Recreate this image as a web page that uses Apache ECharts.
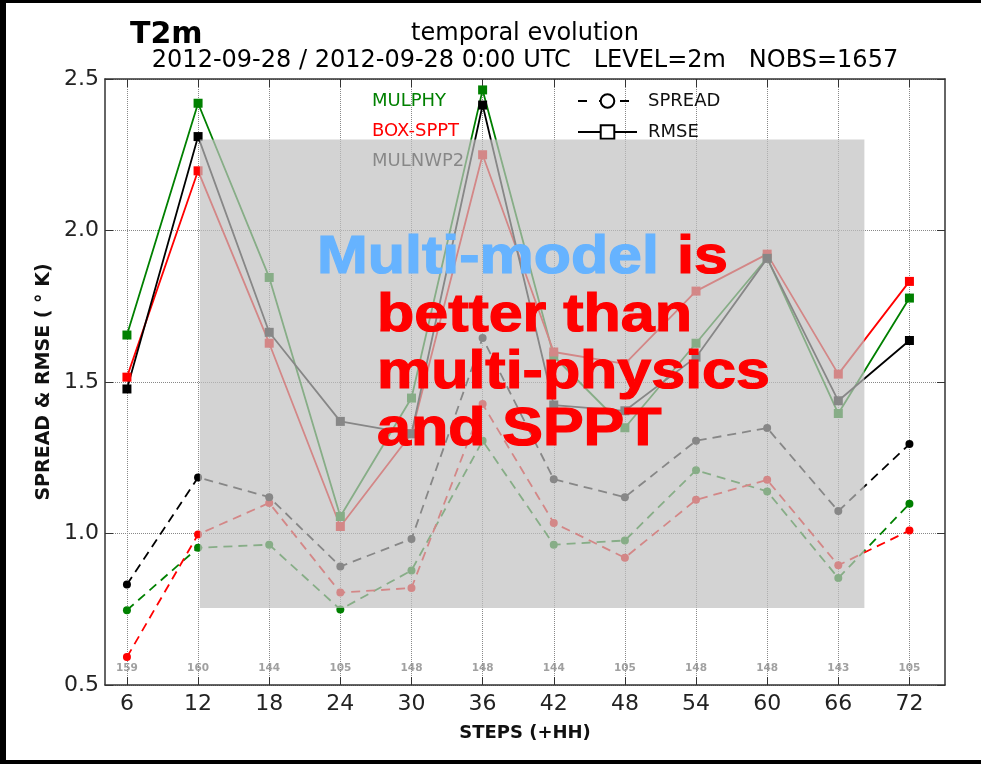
<!DOCTYPE html>
<html><head><meta charset="utf-8">
<script src="https://cdn.jsdelivr.net/npm/echarts@6/dist/echarts.min.js"></script>
<style>html,body{margin:0;padding:0;background:#fff;} #c{width:981px;height:764px;}</style>
</head><body><div id="c"></div>
<script>
const steps = [6, 12, 18, 24, 30, 36, 42, 48, 54, 60, 66, 72];
const nobs = [159, 160, 144, 105, 148, 148, 144, 105, 148, 148, 143, 105];
const rmseMulphy   = [1.655, 2.42, 1.845, 1.056, 1.447, 2.464, 1.585, 1.349, 1.628, 1.91, 1.396, 1.777];
const rmseBoxSppt  = [1.516, 2.197, 1.628, 1.023, 1.33, 2.25, 1.599, 1.56, 1.80, 1.922, 1.526, 1.832];
const rmseMulnwp2  = [1.477, 2.31, 1.664, 1.37, 1.329, 2.414, 1.424, 1.405, 1.582, 1.908, 1.438, 1.637];
const spreadMulphy  = [0.747, 0.953, 0.963, 0.749, 0.878, 1.306, 0.963, 0.977, 1.209, 1.139, 0.853, 1.098];
const spreadBoxSppt = [0.592, 0.997, 1.101, 0.805, 0.82, 1.427, 1.035, 0.92, 1.111, 1.177, 0.895, 1.01];
const spreadMulnwp2 = [0.832, 1.185, 1.12, 0.891, 0.982, 1.645, 1.179, 1.12, 1.306, 1.348, 1.074, 1.295];
const boxRange = [[12.15, 2.3], [68.2, 0.754]];

const FONT = 'DejaVu Sans';
const chart = echarts.init(document.getElementById('c'), null, {renderer: 'canvas'});

function lineSeries(name, vals, color, dashed) {
  return {
    type: 'line', name: name,
    data: steps.map((s, i) => [s, vals[i]]),
    symbol: dashed ? 'circle' : 'rect',
    symbolSize: dashed ? 8 : 9,
    lineStyle: {color: color, width: 1.8, type: dashed ? [9, 6] : 'solid'},
    itemStyle: {color: color},
    z: 3, animation: false, silent: true
  };
}

function bigText(text, x, y, color) {
  return {
    type: 'text', x: x, y: y, scaleX: 1.15, z: 100,
    style: {
      text: text, fontSize: 53, fontWeight: 'bold', fontFamily: 'Liberation Sans',
      fill: color, stroke: color, lineWidth: 1.2, textVerticalAlign: 'top'
    }
  };
}

const axisLineStyle = {color: '#333', width: 1.5};

const option = {
  animation: false,
  backgroundColor: '#fff',
  grid: {left: 105, right: 36, top: 79, bottom: 79, containLabel: false},
  legend: {
    data: ['SPREAD', 'RMSE'], orient: 'vertical', left: 577, top: 92,
    itemWidth: 59, itemHeight: 17, itemGap: 13, padding: 0, selectedMode: false,
    textStyle: {fontSize: 18, fontFamily: FONT, color: '#111', padding: [0, 0, 0, 6]}
  },
  xAxis: [{
    type: 'value', min: 4.15, max: 75, position: 'bottom',
    axisLine: {show: true, onZero: false, lineStyle: axisLineStyle},
    axisTick: {show: true, inside: true, length: 8, customValues: steps, lineStyle: {color: '#333'}},
    axisLabel: {customValues: steps, fontSize: 22, color: '#222', fontFamily: FONT, margin: 8},
    splitLine: {show: true, lineStyle: {type: 'dotted', color: '#888', width: 1}},
    name: 'STEPS (+HH)', nameLocation: 'middle', nameGap: 39,
    nameTextStyle: {fontSize: 18, fontWeight: 'bold', fontFamily: FONT, color: '#111'}
  }, {
    type: 'value', min: 4.15, max: 75, position: 'top',
    axisLine: {show: true, onZero: false, lineStyle: axisLineStyle},
    axisTick: {show: true, inside: true, length: 8, customValues: steps, lineStyle: {color: '#333'}},
    axisLabel: {show: false}, splitLine: {show: false}
  }],
  yAxis: [{
    type: 'value', min: 0.5, max: 2.5, interval: 0.5, position: 'left',
    axisLine: {show: true, onZero: false, lineStyle: axisLineStyle},
    axisTick: {show: true, inside: true, length: 8, lineStyle: {color: '#333'}},
    axisLabel: {formatter: v => v.toFixed(1), fontSize: 22, color: '#222', fontFamily: FONT, margin: 6},
    splitLine: {show: true, lineStyle: {type: 'dotted', color: '#888', width: 1}},
    name: 'SPREAD & RMSE ( \u00B0 K)', nameLocation: 'middle', nameGap: 45, nameRotate: 90,
    nameTextStyle: {fontSize: 19, fontWeight: 'bold', fontFamily: FONT, color: '#111'}
  }, {
    type: 'value', min: 0.5, max: 2.5, interval: 0.5, position: 'right',
    axisLine: {show: true, onZero: false, lineStyle: axisLineStyle},
    axisTick: {show: true, inside: true, length: 8, lineStyle: {color: '#333'}},
    axisLabel: {show: false}, splitLine: {show: false}
  }],
  series: [
    lineSeries('MULPHY spread', spreadMulphy, '#008000', true),
    lineSeries('BOX-SPPT spread', spreadBoxSppt, '#ff0000', true),
    lineSeries('MULNWP2 spread', spreadMulnwp2, '#000000', true),
    lineSeries('MULPHY rmse', rmseMulphy, '#008000', false),
    lineSeries('BOX-SPPT rmse', rmseBoxSppt, '#ff0000', false),
    lineSeries('MULNWP2 rmse', rmseMulnwp2, '#000000', false),
    {
      type: 'line', name: 'SPREAD', data: [], symbol: 'emptyCircle',
      lineStyle: {color: '#000', width: 3, type: [9, 12]}, itemStyle: {color: '#000'}
    },
    {
      type: 'line', name: 'RMSE', data: [], symbol: 'emptyRect',
      lineStyle: {color: '#000', width: 3, type: 'solid'}, itemStyle: {color: '#000'}
    },
    {
      type: 'scatter', name: 'nobs', symbolSize: 0, silent: true, z: 4,
      data: steps.map((s, i) => [s, 0.556, nobs[i]]),
      label: {show: true, position: 'inside', formatter: p => String(p.value[2]),
              fontSize: 10.5, fontWeight: 'bold', color: '#888', fontFamily: FONT}
    },
    {
      type: 'custom', name: 'box', z: 10, silent: true, clip: false,
      data: [[boxRange[0][0], boxRange[0][1], boxRange[1][0], boxRange[1][1]]],
      encode: {x: [0, 2], y: [1, 3]},
      renderItem: (params, api) => {
        const a = api.coord([api.value(0), api.value(1)]);
        const b = api.coord([api.value(2), api.value(3)]);
        return {type: 'rect', shape: {x: a[0], y: a[1], width: b[0] - a[0], height: b[1] - a[1]},
                style: {fill: 'rgba(192,192,192,0.7)'}};
      }
    }
  ],
  graphic: [
    {type: 'rect', shape: {x: 0, y: 0, width: 981, height: 3}, style: {fill: '#000'}, z: 200},
    {type: 'rect', shape: {x: 0, y: 0, width: 6, height: 764}, style: {fill: '#000'}, z: 200},
    {type: 'rect', shape: {x: 0, y: 760, width: 981, height: 4}, style: {fill: '#000'}, z: 200},
    {type: 'text', x: 130, y: 35, z: 50, style: {text: 'T2m', font: 'bold 30px "DejaVu Sans"', fill: '#000', textVerticalAlign: 'middle'}},
    {type: 'text', x: 525, y: 34, z: 50, style: {text: 'temporal evolution', font: '24px "DejaVu Sans"', fill: '#000', textAlign: 'center', textVerticalAlign: 'middle'}},
    {type: 'text', x: 525, y: 61, z: 50, style: {text: '2012-09-28 / 2012-09-28 0:00 UTC   LEVEL=2m   NOBS=1657', font: '24px "DejaVu Sans"', fill: '#000', textAlign: 'center', textVerticalAlign: 'middle'}},
    {type: 'text', x: 372, y: 101, z: 1, style: {text: 'MULPHY', font: '18px "DejaVu Sans"', fill: '#008000', textVerticalAlign: 'middle'}},
    {type: 'text', x: 372, y: 131, z: 1, style: {text: 'BOX-SPPT', font: '18px "DejaVu Sans"', fill: '#ff0000', textVerticalAlign: 'middle'}},
    {type: 'text', x: 372, y: 161, z: 1, style: {text: 'MULNWP2', font: '18px "DejaVu Sans"', fill: '#000', textVerticalAlign: 'middle'}},
    bigText('Multi-model', 317, 232, '#66b3ff'),
    bigText('is', 677, 232, '#ff0000'),
    bigText('better than', 377, 290, '#ff0000'),
    bigText('multi-physics', 377, 347, '#ff0000'),
    bigText('and SPPT', 377, 404, '#ff0000')
  ]
};
chart.setOption(option);
</script>
</body></html>
